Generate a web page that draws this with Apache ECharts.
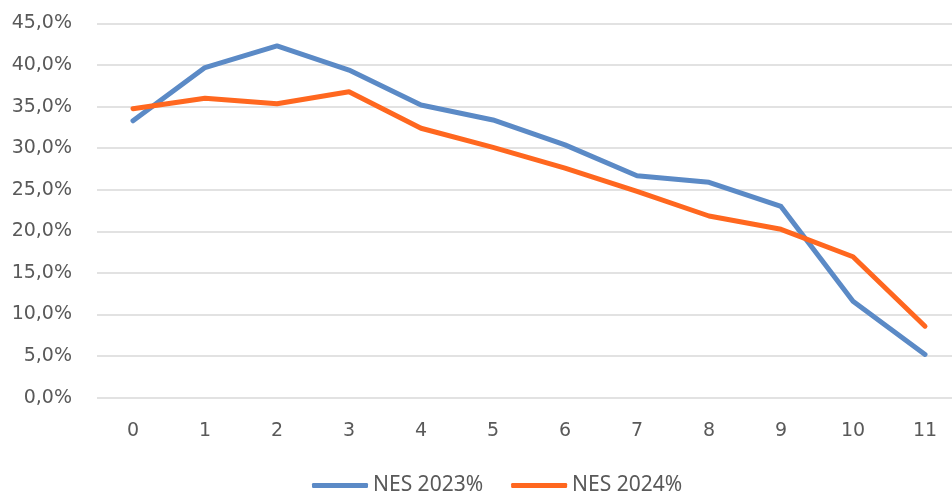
<!DOCTYPE html>
<html>
<head>
<meta charset="utf-8">
<script src="https://cdn.jsdelivr.net/npm/echarts@6/dist/echarts.min.js"></script>
<style>html,body{margin:0;padding:0;background:#fff}#c{width:952px;height:494px}</style>
</head>
<body>
<div id="c"></div>
<script>
const categories = ['0','1','2','3','4','5','6','7','8','9','10','11'];
const nes2023 = [33.3, 39.7, 42.3, 39.4, 35.2, 33.4, 30.4, 26.7, 25.9, 23.0, 11.6, 5.2];
const nes2024 = [34.75, 36.0, 35.35, 36.8, 32.4, 30.1, 27.6, 24.8, 21.85, 20.25, 16.95, 8.6];
const seriesNames = ['NES 2023%', 'NES 2024%'];

const font = 'DejaVu Sans';
const txt = '#595959';
const chart = echarts.init(document.getElementById('c'), null, {renderer: 'canvas'});
chart.setOption({
  animation: false,
  backgroundColor: '#fff',
  grid: {left: 97, width: 864, top: 23.5, height: 374.2, containLabel: false, outerBoundsMode: 'none'},
  legend: {
    left: 307, top: 470,
    icon: 'roundRect', itemWidth: 56, itemHeight: 5, itemGap: 28,
    textStyle: {fontFamily: 'Noto Sans', fontSize: 21, color: txt},
    data: seriesNames
  },
  xAxis: {
    type: 'category', data: categories, boundaryGap: true,
    axisLine: {show: false}, axisTick: {show: false},
    axisLabel: {fontFamily: font, fontSize: 19, color: txt, margin: 24}
  },
  yAxis: {
    type: 'value', min: 0, max: 45, interval: 5,
    axisLine: {show: false}, axisTick: {show: false},
    splitLine: {lineStyle: {color: '#d9d9d9', width: 1.5}},
    axisLabel: {fontFamily: font, fontSize: 19, color: txt, margin: 25,
      formatter: v => v.toFixed(1).replace('.', ',') + '%'}
  },
  series: [
    {name: seriesNames[0], type: 'line', data: nes2023, symbol: 'none', color: '#5b8ac6',
     lineStyle: {width: 5, color: '#5b8ac6', cap: 'round', join: 'round'}},
    {name: seriesNames[1], type: 'line', data: nes2024, symbol: 'none', color: '#ff671f',
     lineStyle: {width: 5, color: '#ff671f', cap: 'round', join: 'round'}}
  ]
});
</script>
</body>
</html>
